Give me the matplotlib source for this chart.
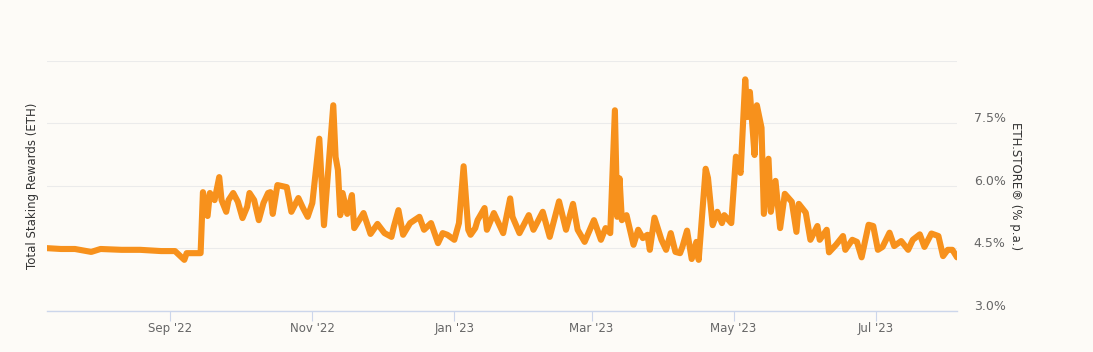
import matplotlib
matplotlib.use('Agg')
import matplotlib.pyplot as plt
import matplotlib.dates as mdates
import pandas as pd

# ===================== DATOS =====================
# ETH.STORE diario (% p.a.)
FECHAS = [
    '2022-07-10', '2022-07-16', '2022-07-22', '2022-07-29', '2022-08-02', '2022-08-11',
    '2022-08-19', '2022-08-28', '2022-09-03', '2022-09-07', '2022-09-08', '2022-09-14',
    '2022-09-15', '2022-09-17', '2022-09-18', '2022-09-20', '2022-09-22', '2022-09-23',
    '2022-09-25', '2022-09-26', '2022-09-28', '2022-09-30', '2022-10-02', '2022-10-04',
    '2022-10-05', '2022-10-07', '2022-10-09', '2022-10-11', '2022-10-13', '2022-10-14',
    '2022-10-15', '2022-10-17', '2022-10-21', '2022-10-23', '2022-10-26', '2022-10-28',
    '2022-10-30', '2022-11-01', '2022-11-04', '2022-11-06', '2022-11-10', '2022-11-11',
    '2022-11-12', '2022-11-13', '2022-11-14', '2022-11-16', '2022-11-18', '2022-11-19',
    '2022-11-23', '2022-11-26', '2022-11-29', '2022-12-02', '2022-12-05', '2022-12-06',
    '2022-12-08', '2022-12-10', '2022-12-13', '2022-12-17', '2022-12-19', '2022-12-22',
    '2022-12-25', '2022-12-27', '2022-12-29', '2023-01-01', '2023-01-03', '2023-01-05',
    '2023-01-07', '2023-01-08', '2023-01-10', '2023-01-11', '2023-01-14', '2023-01-15',
    '2023-01-18', '2023-01-20', '2023-01-22', '2023-01-25', '2023-01-26', '2023-01-29',
    '2023-02-02', '2023-02-04', '2023-02-08', '2023-02-11', '2023-02-15', '2023-02-18',
    '2023-02-21', '2023-02-23', '2023-02-26', '2023-03-02', '2023-03-05', '2023-03-07',
    '2023-03-09', '2023-03-11', '2023-03-12', '2023-03-13', '2023-03-14', '2023-03-16',
    '2023-03-19', '2023-03-21', '2023-03-23', '2023-03-25', '2023-03-26', '2023-03-28',
    '2023-03-31', '2023-04-02', '2023-04-04', '2023-04-06', '2023-04-08', '2023-04-09',
    '2023-04-11', '2023-04-13', '2023-04-15', '2023-04-16', '2023-04-19', '2023-04-20',
    '2023-04-22', '2023-04-24', '2023-04-26', '2023-04-27', '2023-04-30', '2023-05-02',
    '2023-05-04', '2023-05-06', '2023-05-07', '2023-05-08', '2023-05-10', '2023-05-11',
    '2023-05-13', '2023-05-14', '2023-05-16', '2023-05-17', '2023-05-19', '2023-05-21',
    '2023-05-23', '2023-05-26', '2023-05-28', '2023-05-29', '2023-06-01', '2023-06-03',
    '2023-06-06', '2023-06-07', '2023-06-10', '2023-06-11', '2023-06-14', '2023-06-17',
    '2023-06-18', '2023-06-21', '2023-06-23', '2023-06-25', '2023-06-28', '2023-06-30',
    '2023-07-02', '2023-07-04', '2023-07-07', '2023-07-09', '2023-07-12', '2023-07-15',
    '2023-07-17', '2023-07-20', '2023-07-22', '2023-07-25', '2023-07-28', '2023-07-30',
    '2023-08-01', '2023-08-03', '2023-08-05',
]
ETH_STORE = [
    4.36, 4.34, 4.34, 4.27, 4.34, 4.32,
    4.32, 4.29, 4.29, 4.08, 4.24, 4.24,
    5.70, 5.13, 5.68, 5.51, 6.06, 5.51,
    5.23, 5.51, 5.68, 5.47, 5.08, 5.35,
    5.68, 5.51, 5.03, 5.44, 5.68, 5.70,
    5.18, 5.87, 5.82, 5.23, 5.56, 5.32,
    5.11, 5.44, 6.98, 4.91, 7.78, 6.54,
    6.23, 5.15, 5.68, 5.18, 5.63, 4.84,
    5.20, 4.70, 4.94, 4.72, 4.63, 4.87,
    5.27, 4.68, 4.96, 5.11, 4.80, 4.96,
    4.48, 4.72, 4.68, 4.56, 4.96, 6.32,
    4.80, 4.68, 4.84, 5.03, 5.32, 4.80,
    5.20, 4.96, 4.72, 5.55, 5.11, 4.72,
    5.15, 4.80, 5.23, 4.63, 5.48, 4.80,
    5.42, 4.80, 4.51, 5.03, 4.56, 4.84,
    4.72, 7.66, 5.11, 6.03, 5.03, 5.15,
    4.44, 4.80, 4.60, 4.68, 4.32, 5.09,
    4.56, 4.32, 4.72, 4.27, 4.24, 4.39,
    4.78, 4.10, 4.51, 4.08, 6.26, 6.04,
    4.91, 5.23, 4.96, 5.15, 4.96, 6.55,
    6.16, 8.40, 7.50, 8.10, 6.59, 7.78,
    7.24, 5.18, 6.50, 5.23, 5.97, 4.84,
    5.66, 5.47, 4.75, 5.42, 5.21, 4.56,
    4.89, 4.56, 4.80, 4.26, 4.44, 4.65,
    4.32, 4.56, 4.51, 4.14, 4.92, 4.89,
    4.32, 4.39, 4.73, 4.41, 4.53, 4.32,
    4.56, 4.69, 4.39, 4.71, 4.65, 4.17,
    4.32, 4.32, 4.14,
]

PCT_TICKS = [3.0, 4.5, 6.0, 7.5]
PCT_LABELS = ['3.0%', '4.5%', '6.0%', '7.5%']

FONDO = '#fdfbf7'
NARANJA = '#f7911c'
GRIS_TXT = '#666666'

fechas = pd.to_datetime(FECHAS)

fig = plt.figure(figsize=(10.93, 3.52), dpi=100, facecolor=FONDO)
ax = fig.add_axes([0.043, 0.1165, 0.8326, 0.7111])
ax.set_facecolor(FONDO)

# eje izquierdo: solo rejilla, sin etiquetas
ax.set_ylim(0, 4)
ax.set_yticks([0, 1, 2, 3, 4])
ax.set_yticklabels([])
ax.tick_params(axis='y', length=0)
ax.grid(axis='y', color='#ebebeb', lw=0.8)
ax.set_axisbelow(True)
for s in ['top', 'right', 'left']:
    ax.spines[s].set_visible(False)
ax.spines['bottom'].set_color('#ccd6eb')
ax.spines['bottom'].set_linewidth(1.0)
ax.set_ylabel('Total Staking Rewards (ETH)', fontsize=8.5, color='#333333',
              labelpad=2)

ax.set_xlim(fechas[0], fechas[-1])
ax.xaxis.set_major_locator(mdates.MonthLocator(bymonth=[1, 3, 5, 7, 9, 11]))
ax.xaxis.set_major_formatter(mdates.DateFormatter("%b '%y"))
ax.tick_params(axis='x', length=7, width=0.8, color='#ccd6eb',
               labelsize=8.5, labelcolor=GRIS_TXT, pad=1)

# eje derecho: ETH.STORE
ax2 = ax.twinx()
ax2.plot(fechas, ETH_STORE, color=NARANJA, lw=4.4, solid_joinstyle='round',
         solid_capstyle='round')
ax2.set_ylim(2.856, 8.847)
ax2.set_yticks(PCT_TICKS)
ax2.set_yticklabels(PCT_LABELS)
ax2.tick_params(axis='y', length=0, pad=12, labelsize=9, labelcolor=GRIS_TXT)
for s in ax2.spines.values():
    s.set_visible(False)
ax2.set_ylabel('ETH.STORE® (% p.a.)', fontsize=8.5, color='#333333',
               rotation=270, labelpad=12)

fig.savefig('out.png', dpi=100, facecolor=FONDO)
